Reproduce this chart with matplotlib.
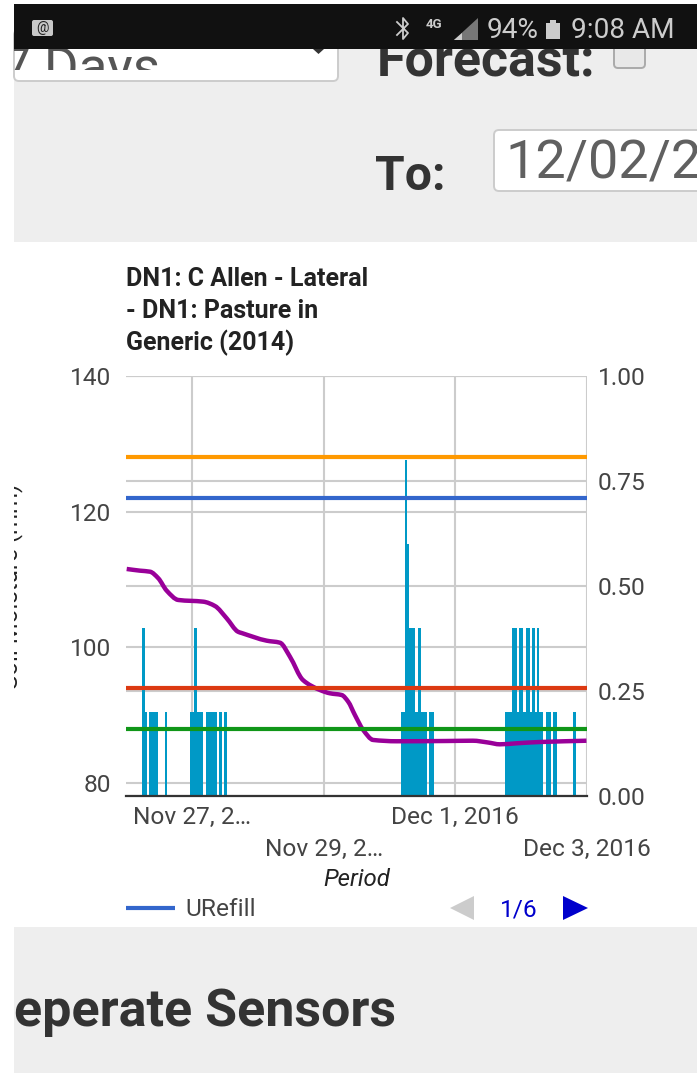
import numpy as np
import matplotlib
matplotlib.use("Agg")
import matplotlib.pyplot as plt
import matplotlib.dates as mdates
from matplotlib.patches import Rectangle, FancyBboxPatch, Polygon, PathPatch
from matplotlib.path import Path

plt.rcParams['font.family'] = ['Roboto', 'DejaVu Sans']

# reference lines (left scale)
ufull = 128
urefill = 122
stress = 94
wilting = 88

# soil moisture, hours since Nov 26 00:00
moist_hours = [0.25, 5.1, 8.74, 11.77, 14.83, 19.05, 28.16, 32.42, 36.68, 40.8, 42.15, 51.26,
               56.1, 59.74, 64.48, 70.67, 74.32, 78.58, 80.98, 83.42, 86.45, 90.09, 98.6,
               116.83, 126.4, 131.9, 136.25, 142.3, 150.8, 167.8]
moist_vals = [111.55, 111.3, 111.15, 110.18, 108.35, 106.98, 106.73, 106.09, 104.28, 102.3, 102.11, 100.98,
              100.68, 98.62, 95.18, 93.71, 93.22, 92.97, 91.98, 90.02, 87.81, 86.34, 86.15,
              86.19, 86.23, 85.97, 85.7, 85.85, 86.04, 86.23]

# rain bars (right scale)
rain_hours = [6.45, 7.1, 8.95, 9.8, 10.65, 11.3, 14.6,
              23.75, 24.6, 25.4, 26.2, 27.0, 27.75, 29.6, 30.4, 31.2, 32.0, 32.8, 34.4, 36.25,
              100.5, 101.3, 102.0, 102.8, 103.5, 104.4, 105.0, 105.9, 106.1, 106.95, 107.8, 108.6, 109.3,
              110.85, 111.7,
              138.5, 139.4, 140.2, 141.1, 141.9, 142.75, 143.6, 144.3, 145.15, 146.05, 146.75,
              147.6, 148.5, 149.3, 150.1, 151.0, 151.6, 153.45, 154.25, 156.15, 156.7, 163.4]
rain_vals = [0.4, 0.2, 0.2, 0.2, 0.2, 0.2, 0.2,
             0.2, 0.2, 0.4, 0.2, 0.2, 0.2, 0.2, 0.2, 0.2, 0.2, 0.2, 0.2, 0.2,
             0.2, 0.2, 0.8, 0.6, 0.4, 0.4, 0.4, 0.2, 0.2, 0.4, 0.2, 0.2, 0.2,
             0.2, 0.2,
             0.2, 0.2, 0.2, 0.4, 0.4, 0.2, 0.4, 0.4, 0.2, 0.4, 0.4,
             0.2, 0.4, 0.2, 0.4, 0.2, 0.2, 0.2, 0.2, 0.2, 0.2, 0.2]

left_ticks = [80, 100, 120, 140]
right_ticks = [0, 0.25, 0.5, 0.75, 1]
date_ticks = ['2016-11-27', '2016-11-29', '2016-12-01', '2016-12-03']
date_labels = ['Nov 27, 2…', 'Nov 29, 2…', 'Dec 1, 2016', 'Dec 3, 2016']
title_lines = ['DN1: C Allen - Lateral', '- DN1: Pasture in', 'Generic (2014)']

W, H = 697, 1074
PX = 0.72  # pt per pixel at dpi 100

fig = plt.figure(figsize=(W / 100, H / 100), dpi=100, facecolor='white')

# page around the chart, in pixel coordinates
page = fig.add_axes([0, 0, 1, 1], zorder=0)
page.set_xlim(0, W)
page.set_ylim(H, 0)
page.axis('off')

page.add_patch(Rectangle((14, 49), W - 14, 193, fc='#eeeeee', ec='none'))
page.add_patch(Rectangle((14, 927), W - 14, 146, fc='#eeeeee', ec='none'))

# select box
page.add_patch(FancyBboxPatch((14, 30), 324, 51, boxstyle='round,pad=0,rounding_size=5', fc='white', ec='#cccccc', lw=1.4))
days = page.text(1, 85, '7 Days', fontsize=53 * PX, color='#555555', va='baseline')
days.set_clip_on(True)
days.set_clip_path(Rectangle((14, 49), 320, 21, transform=page.transData))
page.add_patch(Polygon([[313, 49], [324, 49], [318.5, 54]], fc='#333333', ec='none'))

forecast = page.text(377, 76, 'Forecast:', fontsize=52 * PX, fontweight='bold', color='#333333', va='baseline')
forecast.set_clip_on(True)
forecast.set_clip_path(Rectangle((370, 49), 240, 40, transform=page.transData))
page.add_patch(FancyBboxPatch((614, 35), 31, 33, boxstyle='round,pad=0,rounding_size=4', fc='#e8e8e8', ec='#aaaaaa', lw=1.4))
page.text(375, 190, 'To:', fontsize=48 * PX, fontweight='bold', color='#333333', va='baseline')
page.add_patch(FancyBboxPatch((494, 130), 240, 61, boxstyle='round,pad=0,rounding_size=5', fc='white', ec='#cccccc', lw=1.4))
page.text(505, 178, '12/02/2', fontsize=54 * PX, color='#606060', va='baseline', clip_on=True)
page.text(14, 1026, 'eperate Sensors', fontsize=52 * PX, fontweight='bold', color='#333333', va='baseline')

# status bar
page.add_patch(Rectangle((14, 4), W - 14, 45, fc='#111111', ec='none', zorder=5))
page.add_patch(FancyBboxPatch((32, 20), 21, 16, boxstyle='round,pad=0,rounding_size=2', fc='#c8c8c8', ec='none', zorder=6))
page.text(42.5, 28, '@', fontsize=10, color='#222222', ha='center', va='center', zorder=7)
page.plot([397, 408, 403, 403, 408, 397], [22, 33, 39, 18, 24, 35], color='#cccccc', lw=1.3, zorder=6)
page.text(434, 25, '4G', fontsize=9.5, fontweight='bold', color='#cccccc', ha='center', va='center', zorder=6)
page.add_patch(Polygon([[454, 40], [478, 18], [478, 40]], fc='#777777', ec='none', zorder=6))
page.add_patch(Polygon([[454, 40], [462, 33], [462, 40]], fc='#cccccc', ec='none', zorder=6))
page.text(487, 38, '94%', fontsize=28 * PX, color='#cccccc', va='baseline', zorder=6)
page.add_patch(Rectangle((546, 23), 14, 16, fc='#cccccc', ec='none', zorder=6))
page.add_patch(Rectangle((550, 20), 6, 3, fc='#cccccc', ec='none', zorder=6))
page.text(571, 38, '9:08 AM', fontsize=28 * PX, color='#cccccc', va='baseline', zorder=6)

# clipped y axis title on the left edge
ytitle = page.text(23, 586, 'Soil Moisture (mm)', rotation=90, fontsize=24 * PX, color='#222222',
                   ha='right', va='center')
ytitle.set_clip_on(True)
ytitle.set_clip_path(Rectangle((14, 470), 9, 230, transform=page.transData))

# chart
x0 = mdates.date2num(np.datetime64('2016-11-26'))
x1 = mdates.date2num(np.datetime64('2016-12-03'))
tick_pos = mdates.date2num(np.array(date_ticks, dtype='datetime64[D]'))
moist_x = x0 + np.array(moist_hours) / 24
rain_x = x0 + np.array(rain_hours) / 24

bottom_px, top_px = 796, 376
rect = [126 / W, 1 - bottom_px / H, (587 - 126) / W, (bottom_px - top_px) / H]
ax = fig.add_axes(rect, zorder=1)
ax.patch.set_alpha(0)
ax.set_xlim(x0, x1)
ax.set_ylim(78.08, 140)
ax.set_yticks(left_ticks)
ax.set_xticks(tick_pos, date_labels)
ax.grid(True, color='#cccccc', lw=1.5)
ax.set_axisbelow(True)
ax.tick_params(length=0, labelsize=24.5 * PX, labelcolor='#444444')
ax.tick_params(axis='y', pad=11)
for i, t in enumerate(ax.xaxis.get_major_ticks()):
    t.set_pad(7.5 if i % 2 == 0 else 30)
for s in ax.spines.values():
    s.set_visible(False)

axr = ax.twinx()
axr.set_zorder(2)
axr.patch.set_alpha(0)
axr.set_ylim(0, 1)
axr.set_yticks(right_ticks, ['0.00', '0.25', '0.50', '0.75', '1.00'])
axr.grid(True, color='#cccccc', lw=1.5)
axr.set_axisbelow(True)
axr.tick_params(length=0, labelsize=24.5 * PX, labelcolor='#444444', pad=8)
for s in axr.spines.values():
    s.set_visible(False)
axr.bar(rain_x, rain_vals, width=0.9 / 24, color='#0099c6', linewidth=0, zorder=2)
axr.axhline(0, color='#333333', lw=1.6, zorder=3, clip_on=False)

axl = ax.twinx()
axl.set_zorder(3)
axl.set_ylim(ax.get_ylim())
axl.axis('off')
axl.axhline(ufull, color='#ff9900', lw=3)
axl.axhline(urefill, color='#3366cc', lw=3)
axl.axhline(stress, color='#dc3912', lw=3)
axl.axhline(wilting, color='#109618', lw=3)

# smooth curve through the read points, as the chart's function curve does
d = np.diff(moist_vals) / np.diff(moist_x)
slopes = np.zeros(len(moist_x))
slopes[0], slopes[-1] = d[0], d[-1]
for i in range(1, len(moist_x) - 1):
    if d[i - 1] * d[i] > 0:
        slopes[i] = 2 * d[i - 1] * d[i] / (d[i - 1] + d[i])
verts = [(moist_x[0], moist_vals[0])]
codes = [Path.MOVETO]
for i in range(len(moist_x) - 1):
    dx = (moist_x[i + 1] - moist_x[i]) / 3
    verts += [(moist_x[i] + dx, moist_vals[i] + slopes[i] * dx),
              (moist_x[i + 1] - dx, moist_vals[i + 1] - slopes[i + 1] * dx),
              (moist_x[i + 1], moist_vals[i + 1])]
    codes += [Path.CURVE4] * 3
axl.add_patch(PathPatch(Path(verts, codes), fc='none', ec='#990099', lw=3.2, capstyle='butt'))

# title, axis title, legend and pager
for line, y in zip(title_lines, [286, 318, 350]):
    page.text(126, y, line, fontsize=25 * PX, fontweight='bold', color='#222222', va='baseline')
page.text(357, 886, 'Period', fontsize=24 * PX, style='italic', color='#222222', ha='center', va='baseline')

page.plot([126, 175], [908, 908], color='#3366cc', lw=3, solid_capstyle='butt')
page.text(185, 916, 'URefill', fontsize=24.5 * PX, color='#444444', va='baseline')
page.add_patch(Polygon([[474, 896], [474, 920], [450, 908]], fc='#cccccc', ec='none'))
page.text(519, 916, '1/6', fontsize=24.5 * PX, color='#0000cc', ha='center', va='baseline')
page.add_patch(Polygon([[563, 896], [563, 920], [588, 908]], fc='#0000cc', ec='none'))

fig.savefig('out.png', dpi=100)
